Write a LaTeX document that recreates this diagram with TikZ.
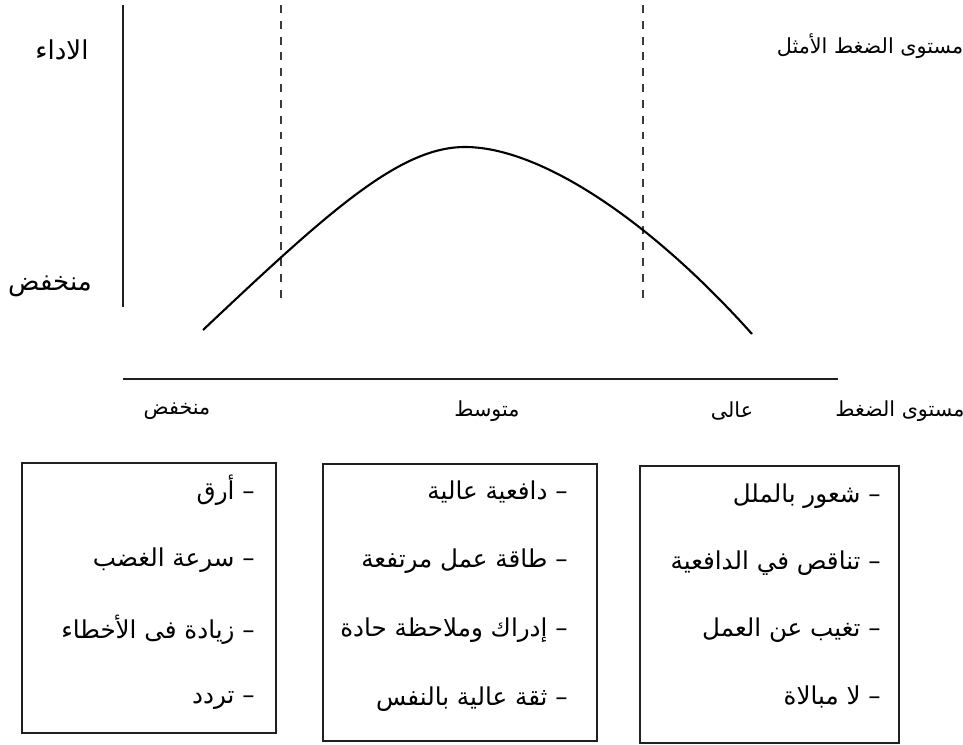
\documentclass[tikz,border=0pt]{standalone}
\usepackage{fontspec}
\newfontfamily\arabicfont[Script=Arabic]{DejaVu Sans}
\TeXXeTstate=1
\definecolor{inkgray}{HTML}{202020}
\definecolor{dashgray}{HTML}{3A3A3A}
\usetikzlibrary{positioning}

\begin{document}
\begin{tikzpicture}[x=0.02cm,y=-0.02cm]
  \tikzset{
    axisline/.style={inkgray,line width=1.4pt},
    optline/.style={dashgray,line width=1.6pt,dash pattern=on 4.5pt off 4.5pt},
    curveline/.style={black,line width=1.2pt},
    biglabel/.style={font=\arabicfont\fontsize{14.8}{17}\selectfont,inner sep=0pt},
    smalllabel/.style={font=\arabicfont\fontsize{11.8}{14}\selectfont,inner sep=0pt},
    listbox/.style={draw=inkgray,line width=1.4pt,inner sep=0pt,outer sep=0pt},
    listitem/.style={font=\arabicfont\fontsize{14}{16}\selectfont,inner sep=0pt,anchor=east}
  }
  \useasboundingbox (0,0) rectangle (963,744);

  % Axes
  \coordinate (ytop) at (123,5);
  \coordinate (ybot) at (123,307);
  \coordinate (xleft) at (123,379);
  \coordinate (xright) at (838,379);
  \draw[axisline] (ytop) -- (ybot);
  \draw[axisline] (xleft) -- (xright);

  % Optimal stress band
  \coordinate (lowtop) at (281,5);
  \coordinate (lowbot) at (281,303);
  \coordinate (hightop) at (643,5);
  \coordinate (highbot) at (643,303);
  \draw[optline] (lowtop) -- (lowbot);
  \draw[optline] (hightop) -- (highbot);

  % Performance curve
  \coordinate (cstart) at (203,330);
  \coordinate (cpeak) at (465,147);
  \coordinate (cend) at (752,334);
  \draw[curveline] (cstart) .. controls (330,210) and (400,147) .. (cpeak)
    .. controls (540,147) and (650,220) .. (cend);

  % Labels
  \node[biglabel] (perf) at (62,50) {\beginR الاداء\endR};
  \node[biglabel] (perflow) at (50,286) {\beginR منخفض\endR};
  \node[smalllabel] (optimal) at (870,46) {\beginR مستوى الضغط الأمثل\endR};
  \node[smalllabel] (stresslow) at (177,411) {\beginR منخفض\endR};
  \node[smalllabel] (stressmid) at (487,411) {\beginR متوسط\endR};
  \node[smalllabel] (stresshigh) at (732,411) {\beginR عالى\endR};
  \node[smalllabel] (stress) at (900,411) {\beginR مستوى الضغط\endR};

  % Symptom boxes
  \node[listbox,minimum width=5.08cm,minimum height=5.4cm] (lowbox) at (149,598) {};
  \node[listbox,minimum width=5.48cm,minimum height=5.54cm] (midbox) at (460,602.5) {};
  \node[listbox,minimum width=5.18cm,minimum height=5.54cm] (highbox) at (769.5,604.5) {};

  \foreach \txt [count=\i] in {أرق,سرعة الغضب,زيادة فى الأخطاء,تردد}
    \node[listitem] (lowitem\i) at (255,{490+(\i-1)*70}) {\beginR – \txt\endR};
  \foreach \txt [count=\i] in {دافعية عالية,طاقة عمل مرتفعة,إدراك وملاحظة حادة,ثقة عالية بالنفس}
    \node[listitem] (miditem\i) at (568,{492+(\i-1)*69}) {\beginR – \txt\endR};
  \foreach \txt [count=\i] in {شعور بالملل,تناقص في الدافعية,تغيب عن العمل,لا مبالاة}
    \node[listitem] (highitem\i) at (881,{496+(\i-1)*67}) {\beginR – \txt\endR};
\end{tikzpicture}
\end{document}
